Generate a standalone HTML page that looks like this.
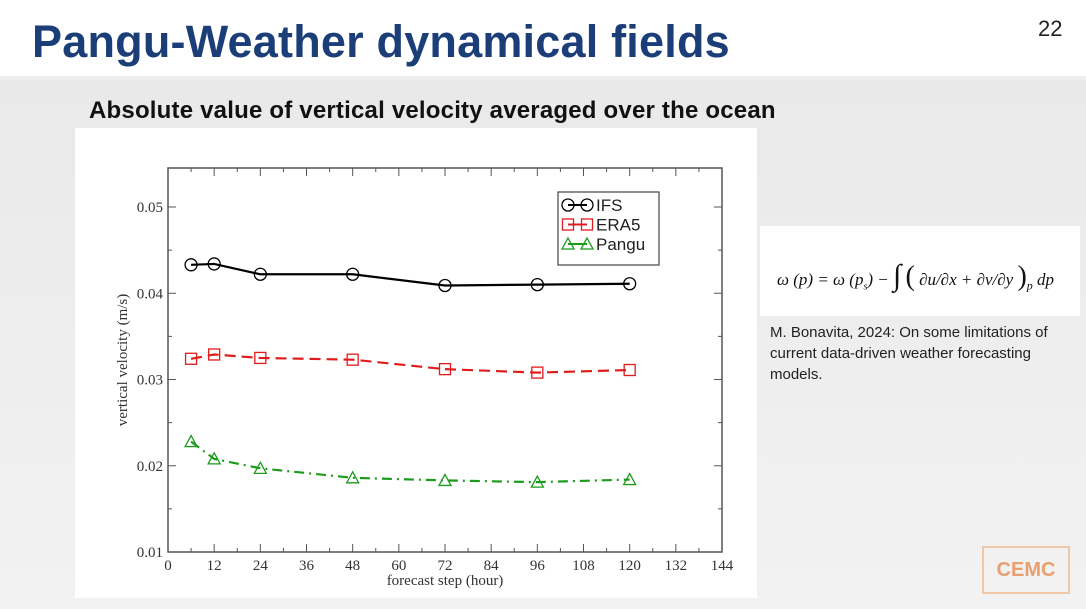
<!DOCTYPE html>
<html><head><meta charset="utf-8"><style>
body{margin:0;width:1086px;height:609px;overflow:hidden;background:#eeeeee;font-family:"Liberation Sans",sans-serif;position:relative}
.abs{position:absolute}
</style></head><body>
<div class="abs" style="left:0;top:0;width:1086px;height:76px;background:#fff"></div>
<div class="abs" style="left:32px;top:16px;font-size:45px;font-weight:bold;color:#1c3e78;letter-spacing:0.2px">Pangu-Weather dynamical fields</div>
<div class="abs" style="left:1038px;top:16px;font-size:22px;color:#222">22</div>
<div class="abs" style="left:0;top:80px;width:1086px;height:529px;background:linear-gradient(#e9e9e9,#f2f2f2)"></div>
<div class="abs" style="left:89px;top:97px;font-size:24px;font-weight:bold;color:#111;letter-spacing:0.2px">Absolute value of vertical velocity averaged over the ocean</div>
<svg class="abs" style="left:0;top:0" width="1086" height="609">
<rect x="75" y="128" width="682" height="470" fill="#fff"/>
<g id="g"></g>
</svg>
<div class="abs" style="left:760px;top:226px;width:320px;height:90px;background:#fff;font-family:'Liberation Serif',serif;font-style:italic;font-size:17px;color:#111">
<div style="position:absolute;left:17px;top:33px;white-space:nowrap">ω (p) = ω (p<sub style="font-size:10px">s</sub>) − <span style="font-size:30px;font-style:normal">∫</span> <span style="font-size:28px;font-style:normal">(</span> ∂u/∂x + ∂v/∂y <span style="font-size:28px;font-style:normal">)</span><sub style="font-size:12px">p</sub> dp</div>
</div>
<div class="abs" style="left:770px;top:322px;font-size:15px;line-height:21px;color:#222;width:290px">M. Bonavita, 2024: On some limitations of current data-driven weather forecasting models.</div>
<div class="abs" style="left:982px;top:546px;width:88px;height:48px;border:2px solid #f0c8a8;box-sizing:border-box;color:#e8a070;font-weight:bold;font-size:20px;text-align:center;line-height:44px">CEMC</div>
<script>
const steps=[6,12,24,48,72,96,120];
const ifs=[0.0433,0.0434,0.0422,0.0422,0.0409,0.0410,0.0411];
const era5=[0.0324,0.0329,0.0325,0.0323,0.0312,0.0308,0.0311];
const pangu=[0.0228,0.0208,0.0197,0.0186,0.0183,0.0181,0.0184];
const xTicks=[0,12,24,36,48,60,72,84,96,108,120,132,144];
const yTicks=[0.01,0.02,0.03,0.04,0.05];
const yLabels=["0.01","0.02","0.03","0.04","0.05"];
const L=168,R=722,T=168,B=552;
const X=v=>L+(v-0)/144*(R-L);
const Y=v=>B-(v-0.01)*8625;
const g=document.getElementById('g');const NS='http://www.w3.org/2000/svg';
function mk(t,a,p){const e=document.createElementNS(NS,t);for(const k in a)e.setAttribute(k,a[k]);(p||g).appendChild(e);return e;}
let fr=mk('rect',{x:L,y:T,width:R-L,height:B-T,fill:'none',stroke:'#555','stroke-width':1.5});


xTicks.forEach((t,i)=>{const x=X(t);
mk('line',{x1:x,x2:x,y1:B,y2:B-8,stroke:'#555'});mk('line',{x1:x,x2:x,y1:T,y2:T+8,stroke:'#555'});
if(i<xTicks.length-1){const xm=X(t+6);mk('line',{x1:xm,x2:xm,y1:B,y2:B-4,stroke:'#555'});mk('line',{x1:xm,x2:xm,y1:T,y2:T+4,stroke:'#555'});}
const tx=mk('text',{x:x,y:B+18,'text-anchor':'middle','font-family':'Liberation Serif,serif','font-size':15,fill:'#333'});tx.textContent=t;

});
yTicks.forEach((t,i)=>{const y=Y(t);
mk('line',{x1:L,x2:L+8,y1:y,y2:y,stroke:'#555'});mk('line',{x1:R,x2:R-8,y1:y,y2:y,stroke:'#555'});
const ym=Y(t+0.005);if(ym>T){mk('line',{x1:L,x2:L+4,y1:ym,y2:ym,stroke:'#555'});mk('line',{x1:R,x2:R-4,y1:ym,y2:ym,stroke:'#555'});}
const tx=mk('text',{x:L-5,y:y+5,'text-anchor':'end','font-family':'Liberation Serif,serif','font-size':15,fill:'#333'});tx.textContent=yLabels[i];

});
let xt=mk('text',{x:(L+R)/2,y:B+33,'text-anchor':'middle','font-family':'Liberation Serif,serif','font-size':15,fill:'#333'});xt.textContent='forecast step (hour)';


let yt=mk('text',{x:0,y:0,transform:`translate(127,${(T+B)/2}) rotate(-90)`,'text-anchor':'middle','font-family':'Liberation Serif,serif','font-size':15,fill:'#333'});yt.textContent='vertical velocity (m/s)';


function marker(type,x,y,c,p){if(type==='c')mk('circle',{cx:x,cy:y,r:6,fill:'none',stroke:c,'stroke-width':1.3},p);
else if(type==='s')mk('rect',{x:x-5.5,y:y-5.5,width:11,height:11,fill:'none',stroke:c,'stroke-width':1.3},p);
else mk('path',{d:`M${x},${y-6}L${x+6},${y+5}L${x-6},${y+5}Z`,fill:'none',stroke:c,'stroke-width':1.3},p);}
const series=[[ifs,'#000','','c','ifs'],[era5,'#e01c1c','11 6','s','era5'],[pangu,'#1c9a1c','10 5 2 5','t','pangu']];
series.forEach(([d,c,da,m,n])=>{const grp=mk('g',{});


mk('polyline',{points:steps.map((s,i)=>X(s)+','+Y(d[i])).join(' '),fill:'none',stroke:c,'stroke-width':2.2,'stroke-dasharray':da},grp);
steps.forEach((s,i)=>marker(m,X(s),Y(d[i]),c,grp));});
const lg=mk('g',{});


mk('rect',{x:558,y:192,width:101,height:73,fill:'#fff',stroke:'#444','stroke-width':1.2},lg);
const names=['IFS','ERA5','Pangu'];
series.forEach(([d,c,da,m],i)=>{const y=205+i*19.5;
mk('line',{x1:568,x2:587,y1:y,y2:y,stroke:c,'stroke-width':2},lg);marker(m,568,y,c,lg);marker(m,587,y,c,lg);
const t=mk('text',{x:596,y:y+6,'font-size':17,fill:'#222'},lg);t.textContent=names[i];

});
</script>
</body></html>
